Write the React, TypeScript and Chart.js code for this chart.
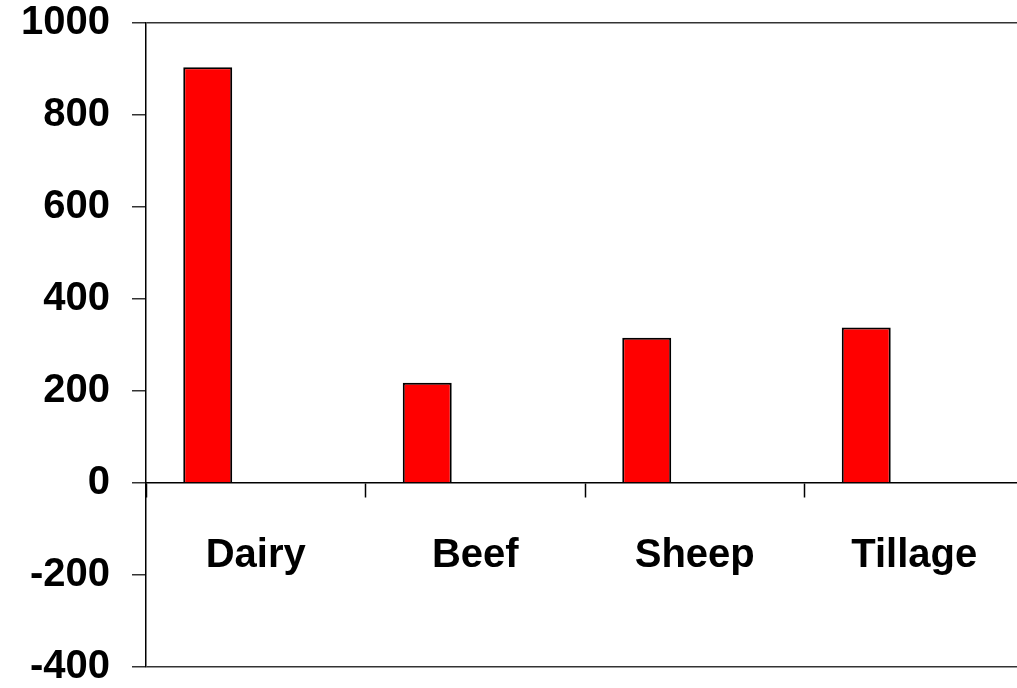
import React, { useEffect, useRef } from "react";
import { Chart, registerables } from "chart.js";

Chart.register(...registerables);

const categories = ["Dairy", "Beef", "Sheep", "Tillage"];
const seriesValues = [904, 218, 316, 338];
const emptySeries: (number | null)[] = [null, null, null, null];
const yMin = -400;
const yMax = 1000;
const yStep = 200;

export default function App() {
  const ref = useRef<HTMLCanvasElement | null>(null);
  useEffect(() => {
    if (!ref.current) return;
    const font = { family: "'Liberation Sans', Arial, sans-serif", size: 40, weight: "bold" as const };
    const chart = new Chart(ref.current, {
      type: "bar",
      data: {
        labels: categories,
        datasets: [
          { label: "Series 1", data: seriesValues, backgroundColor: "#FF0000", borderColor: "#000", borderWidth: 2, categoryPercentage: 0.875, barPercentage: 0.51 },
          { label: "Series 2", data: emptySeries, backgroundColor: "#0000FF", borderColor: "#000", borderWidth: 2, categoryPercentage: 0.875, barPercentage: 0.51 },
        ],
      },
      options: {
        animation: false,
        responsive: false,
        maintainAspectRatio: false,
        layout: { padding: { left: 0, right: 6, top: 23, bottom: 21 } },
        plugins: { legend: { display: false }, tooltip: { enabled: false } },
        scales: {
          x: {
            position: { y: 0 },
            offset: true,
            grid: { offset: true, drawOnChartArea: false, drawTicks: true, tickLength: 14, tickColor: "#000", tickWidth: 1.5 },
            border: { display: true, color: "#000", width: 1.5 },
            ticks: { color: "#000", font, padding: 35, maxRotation: 0, autoSkip: false },
            afterFit: (scale: any) => { scale.height = 0; scale.paddingLeft = 0; scale.paddingRight = 0; },
          },
          y: {
            min: yMin,
            max: yMax,
            ticks: { stepSize: yStep, color: "#000", font, padding: 22, callback: (v: any) => String(v) },
            grid: {
              color: (ctx: any) => ctx.tick && (ctx.tick.value === yMax || ctx.tick.value === yMin) ? "#333" : "rgba(0,0,0,0)",
              lineWidth: 1.5, tickColor: "#333", tickWidth: 1.5, tickLength: 14,
            },
            border: { display: true, color: "#000", width: 1.5 },
            afterFit: (scale: any) => { scale.width = 146; scale.paddingTop = 0; scale.paddingBottom = 0; },
          },
        },
      },
    });
    return () => chart.destroy();
  }, []);
  return (
    <div style={{ position: "fixed", left: 0, top: 0, width: 1017, height: 688, overflow: "hidden", background: "#fff" }}>
      <canvas ref={ref} width={1030} height={688} style={{ width: 1030, height: 688, display: "block" }} />
    </div>
  );
}
